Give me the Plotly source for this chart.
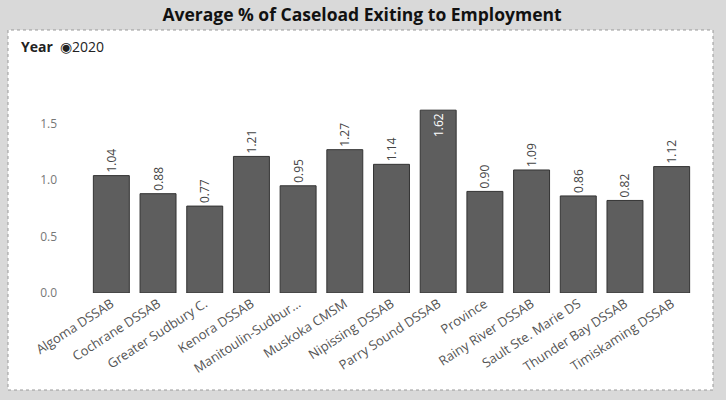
import plotly.graph_objects as go

categories = ["Algoma DSSAB", "Cochrane DSSAB", "Greater Sudbury C.", "Kenora DSSAB",
              "Manitoulin-Sudbur...", "Muskoka CMSM", "Nipissing DSSAB", "Parry Sound DSSAB",
              "Province", "Rainy River DSSAB", "Sault Ste. Marie DS", "Thunder Bay DSSAB",
              "Timiskaming DSSAB"]
values = [1.04, 0.88, 0.77, 1.21, 0.95, 1.27, 1.14, 1.62, 0.90, 1.09, 0.86, 0.82, 1.12]
y_ticks = [0.0, 0.5, 1.0, 1.5]

vmax = max(values)
positions = ["inside" if v == vmax else "outside" for v in values]

fig = go.Figure()
fig.add_trace(go.Bar(
    x=categories, y=values,
    marker=dict(color="#5e5e5e", line=dict(color="#333333", width=1)),
    text=[f"{v:.2f}" for v in values],
    textposition=positions,
    textangle=-90,
    insidetextanchor="end",
    insidetextfont=dict(color="white", size=12, family="Open Sans"),
    outsidetextfont=dict(color="#444444", size=12, family="Open Sans"),
    cliponaxis=False,
))

L, R, T, B = 88, 31, 100, 107
W, H = 726, 400
pw, ph = W - L - R, H - T - B
def px(x): return (x - L) / pw
def py(y): return (H - B - y) / ph

fig.add_shape(type="rect", xref="paper", yref="paper",
              x0=px(8), x1=px(713), y0=py(390), y1=py(30),
              fillcolor="white", line=dict(color="#999999", width=1, dash="dot"),
              layer="below")

fig.add_annotation(xref="paper", yref="paper", x=px(19), y=py(47), xanchor="left", yanchor="middle",
                   text="<b>Year</b>  ◉2020", showarrow=False,
                   font=dict(size=14, color="#222222", family="Open Sans"))

fig.update_layout(
    width=W, height=H,
    margin=dict(l=L, r=R, t=T, b=B),
    paper_bgcolor="#d9d9d9",
    plot_bgcolor="white",
    title=dict(text="<b>Average % of Caseload Exiting to Employment</b>", x=px(362), xanchor="center",
               xref="paper", y=1 - 15 / H, yanchor="middle",
               font=dict(size=17.5, color="#111111", family="Open Sans")),
    bargap=0.23,
    showlegend=False,
    font=dict(family="Open Sans"),
)
fig.update_xaxes(tickangle=-33, tickfont=dict(size=13, color="#555555"), showgrid=False,
                 showline=False, ticks="")
fig.update_yaxes(range=[0, 1.71], tickvals=y_ticks, tickformat=".1f",
                 tickfont=dict(size=12, color="#777777"), showgrid=False, zeroline=False,
                 showline=False, ticks="", ticklabelstandoff=30)

fig.write_html("out.html")
